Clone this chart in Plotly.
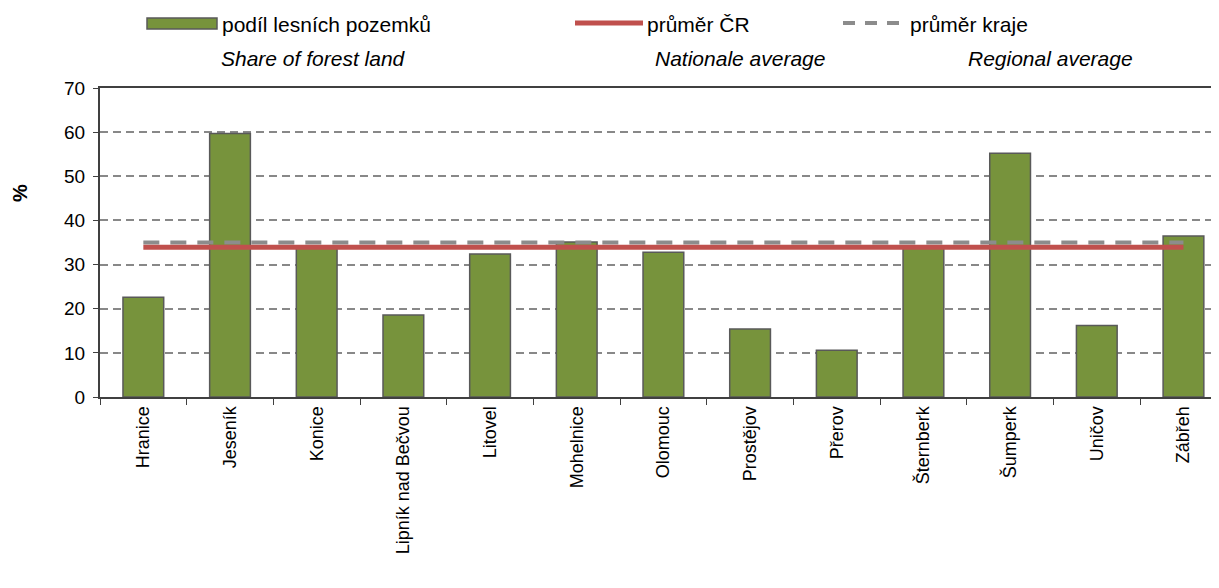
import plotly.graph_objects as go

okresy = ["Hranice", "Jeseník", "Konice", "Lipník nad Bečvou", "Litovel", "Mohelnice",
          "Olomouc", "Prostějov", "Přerov", "Šternberk", "Šumperk", "Uničov", "Zábřeh"]
podil_lesu = [22.6, 59.7, 34.0, 18.6, 32.4, 35.1, 32.8, 15.4, 10.6, 34.0, 55.2, 16.2, 36.5]
prumer_cr = 33.9
prumer_kraje = 35.0

# stránka má okraj 8 px, proto je graf o 8 px menší
W, H = 1211, 580
L, R, T, B = 92, 0, 80, 191
FONT = "Arial, Liberation Sans, sans-serif"
X0, Y0 = 8 + L, 8 + H - B          # levý a spodní okraj plochy grafu na stránce
PW, PH = W - L - R, H - T - B


def px(p):
    return (p - X0) / PW


def py(p):
    return (Y0 - p) / PH


fig = go.Figure()
fig.add_trace(go.Bar(x=okresy, y=podil_lesu, name="podíl lesních pozemků", width=0.47,
                     marker=dict(color="#77933C", line=dict(color="#595959", width=1.5))))
fig.add_trace(go.Scatter(x=[okresy[0], okresy[-1]], y=[prumer_kraje] * 2, mode="lines",
                         name="průměr kraje",
                         line=dict(color="#8C8C8C", width=4, dash="16px,11px")))
fig.add_trace(go.Scatter(x=[okresy[0], okresy[-1]], y=[prumer_cr] * 2, mode="lines",
                         name="průměr ČR", line=dict(color="#C0504D", width=5)))

# vlastní legenda nahoře
fig.add_shape(type="rect", xref="paper", yref="paper", x0=px(147), x1=px(217), y0=py(29), y1=py(18),
              fillcolor="#77933C", line=dict(color="#595959", width=1.5))
fig.add_shape(type="line", xref="paper", yref="paper", x0=px(575), x1=px(643), y0=py(23), y1=py(23),
              line=dict(color="#C0504D", width=5))
fig.add_shape(type="line", xref="paper", yref="paper", x0=px(843), x1=px(903), y0=py(23), y1=py(23),
              line=dict(color="#8C8C8C", width=4, dash="12px,10px"))

legenda = [(222, "podíl lesních pozemků", "Share of forest land", 221),
           (647, "průměr ČR", "Nationale average", 655),
           (910, "průměr kraje", "Regional average", 968)]
for x_cz, cz, en, x_en in legenda:
    fig.add_annotation(xref="paper", yref="paper", x=px(x_cz), y=py(24), text=cz, showarrow=False,
                       xanchor="left", yanchor="middle", xshift=-2, font=dict(size=21, color="#000000"))
    fig.add_annotation(xref="paper", yref="paper", x=px(x_en), y=py(58), text=f"<i>{en}</i>",
                       showarrow=False, xanchor="left", yanchor="middle", xshift=-2,
                       font=dict(size=21, color="#000000"))

fig.add_annotation(xref="paper", yref="paper", x=px(20), y=py(193), text="<b>%</b>", textangle=-90,
                   showarrow=False, xanchor="center", yanchor="middle", font=dict(size=20, color="#000000"))

fig.update_layout(
    width=W, height=H, margin=dict(l=L, r=R, t=T, b=B),
    plot_bgcolor="white", paper_bgcolor="white", showlegend=False,
    font=dict(family=FONT, color="#000000"),
)
fig.update_xaxes(type="category", range=[-0.5, 12.41], tickangle=-90, tickfont=dict(size=18),
                 showline=True, linecolor="#404040", linewidth=2, mirror=True,
                 ticks="outside", tickson="boundaries", ticklen=6, tickcolor="#404040", showgrid=False)
fig.update_yaxes(range=[0, 70], dtick=10, tickfont=dict(size=19), showline=True, linecolor="#404040",
                 linewidth=2, ticks="outside", ticklen=5, tickcolor="#404040", ticklabelstandoff=4,
                 showgrid=True, gridcolor="#888888", gridwidth=1.5, griddash="8px,5px",
                 zeroline=False)

fig.write_html("out.html")
